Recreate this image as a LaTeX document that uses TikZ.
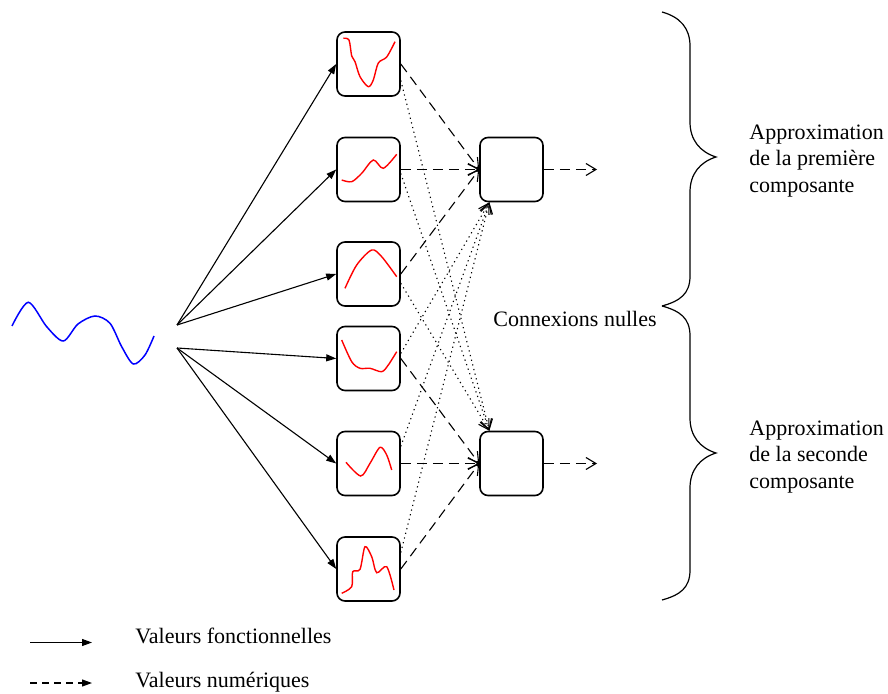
\documentclass[tikz,border=0pt]{standalone}
\usepackage{fontspec}
\setmainfont{Liberation Serif}
\usetikzlibrary{arrows.meta}

\tikzset{
  boite/.style={draw, line width=0.8pt, rounded corners=4pt, minimum width=31.5pt, minimum height=32pt, inner sep=0pt},
  fonc/.style={line width=0.55pt, -{Triangle[length=5pt,width=3.5pt]}},
  num/.style={line width=0.55pt, dash pattern=on 5pt off 3pt, -{Straight Barb[length=5pt,width=6pt]}},
  nulle/.style={line width=0.55pt, dash pattern=on 0.6pt off 1.8pt, -{Straight Barb[length=5pt,width=6pt]}},
  courbe/.style={red, line width=0.7pt},
  texte/.style={font=\fontsize{11}{13.3}\selectfont, inner sep=0pt, align=left},
}

\begin{document}
\begin{tikzpicture}[x=0.5pt,y=0.5pt,yscale=-1,xscale=1]
\useasboundingbox (0,0) rectangle (888,694);

%Curve: input signal
\draw [blue, line width=0.75pt] plot [smooth] coordinates {(12,326) (28.3,302.3) (46.7,326.7) (63.3,341) (78,324) (95,316) (110,323.3) (121.7,346.7) (133.3,364) (145,355) (154,336)};

%Fan out points
\coordinate (e1) at (177,325);
\coordinate (e2) at (177,348);

%Rounded Rect: function boxes
\node [boite] (f1) at (368.5,64) {};
\node [boite] (f2) at (368.5,169.5) {};
\node [boite] (f3) at (368.5,274) {};
\node [boite] (f4) at (368.5,358.5) {};
\node [boite] (f5) at (368.5,463.5) {};
\node [boite] (f6) at (368.5,569) {};
%Rounded Rect: output boxes
\node [boite] (s1) at (511.5,169.5) {};
\node [boite] (s2) at (511.5,463.5) {};

%Curves inside the boxes
\draw [courbe] plot [smooth] coordinates {(343.3,38.3) (349,40) (351.7,56) (355,61.7) (360,76.7) (368.3,86.7) (373.3,80) (378.3,63) (386.7,57) (395,41.7)};
\draw [courbe] plot [smooth] coordinates {(341.7,180) (351.7,181.7) (361.7,173.3) (373.3,160) (383.3,168.3) (396.7,154.3)};
\draw [courbe] plot [smooth] coordinates {(345,288.3) (356.7,265) (371.7,250) (381.7,256.7) (396.7,276.7)};
\draw [courbe] plot [smooth] coordinates {(341.7,340) (351.7,361.7) (360,368.3) (370,368.3) (381.7,371.7) (388.3,365) (396.7,351.7)};
\draw [courbe] plot [smooth] coordinates {(346,462.3) (360.7,476) (370,463.3) (380,447.3) (386.7,455) (391.7,470)};
\draw [courbe] plot [smooth] coordinates {(341.7,593.3) (351.7,586.7) (352.7,571.7) (360,569.3) (365,546.7) (371.7,556.7) (376.7,572.7) (386.7,566.7) (394,590)};

%Straight Lines: functional values
\draw [fonc] (e1) -- (f1.west);
\draw [fonc] (e1) -- (f2.west);
\draw [fonc] (e1) -- (f3.west);
\draw [fonc] (e2) -- (f4.west);
\draw [fonc] (e2) -- (f5.west);
\draw [fonc] (e2) -- (f6.west);

%Straight Lines: numerical values
\draw [num] (f1.east) -- (s1.west);
\draw [num] (f2.east) -- (s1.west);
\draw [num] (f3.east) -- (s1.west);
\draw [num] (f4.east) -- (s2.west);
\draw [num] (f5.east) -- (s2.west);
\draw [num] (f6.east) -- (s2.west);

%Straight Lines: null connections
\draw [nulle] (f1.-27) -- (s2.124);
\draw [nulle] (f2.-7) -- (s2.124);
\draw [nulle] (f3.-16) -- (s2.124);
\draw [nulle] (f4.9) -- (s1.236);
\draw [nulle] (f5.28) -- (s1.236);
\draw [nulle] (f6.27) -- (s1.236);

%Outputs
\coordinate (o1) at (597,169.5);
\coordinate (o2) at (597,463.5);
\draw [num] (s1.east) -- (o1);
\draw [num] (s2.east) -- (o2);

%Curve Lines: braces
\draw [line width=0.6pt] (662,12) .. controls (680,17) and (690,28) .. (690,46) -- (690,122) .. controls (690,140) and (700,152) .. (716,157) .. controls (700,162) and (690,174) .. (690,192) -- (690,276) .. controls (690,294) and (680,301) .. (662,306);
\draw [line width=0.6pt] (662,306) .. controls (680,311) and (690,318) .. (690,336) -- (690,418) .. controls (690,436) and (700,448) .. (716,453) .. controls (700,458) and (690,470) .. (690,488) -- (690,570) .. controls (690,588) and (680,595) .. (662,600);

% Text Node
\node [texte, anchor=west] (app1) at (749,161) {Approximation\\de la première\\composante};
% Text Node
\node [texte, anchor=west] (app2) at (749,457) {Approximation\\de la seconde\\composante};
% Text Node
\node [texte, anchor=base west] (nulles) at (493,327) {Connexions nulles};

%Legend
\coordinate (l1a) at (30,642.5);
\coordinate (l1b) at (92,642.5);
\coordinate (l2a) at (30,683);
\coordinate (l2b) at (92,683);
\draw [fonc] (l1a) -- (l1b);
\draw [line width=0.55pt, dash pattern=on 3.5pt off 2.5pt, -{Triangle[length=5pt,width=3.5pt]}] (l2a) -- (l2b);
% Text Node
\node [texte, anchor=base west] (leg1) at (135,643) {Valeurs fonctionnelles};
% Text Node
\node [texte, anchor=base west] (leg2) at (135,687) {Valeurs numériques};

\end{tikzpicture}
\end{document}
